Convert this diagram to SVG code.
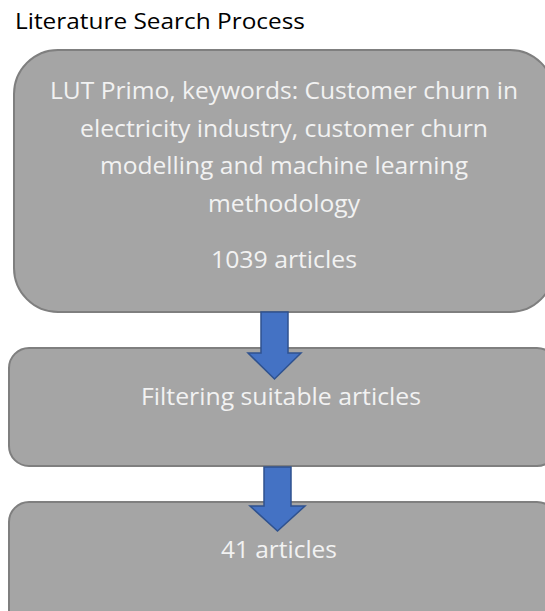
<svg xmlns="http://www.w3.org/2000/svg" width="545" height="611" viewBox="0 0 545 611">
<style>
.box{fill:#a5a5a5;stroke:#7f7f7f;stroke-width:2}
.t{font-family:"Open Sans","Liberation Sans",sans-serif;font-size:23.5px;fill:#f2f2f2;text-anchor:middle}
.title{font-family:"Open Sans","Liberation Sans",sans-serif;font-size:21px;fill:#000}
.arrow{fill:#4472c4;stroke:#2f528f;stroke-width:1.5;stroke-linejoin:miter}
</style>
<rect width="545" height="611" fill="#fff"/>
<text class="title" x="15" y="29" textLength="290" lengthAdjust="spacingAndGlyphs">Literature Search Process</text>
<g id="node1">
<rect class="box" x="14" y="50" width="540" height="262" rx="44" ry="44"/>
<text class="t" x="284" y="99" textLength="468" lengthAdjust="spacingAndGlyphs">LUT Primo, keywords: Customer churn in</text>
<text class="t" x="284" y="137" textLength="408" lengthAdjust="spacingAndGlyphs">electricity industry, customer churn</text>
<text class="t" x="284" y="174" textLength="368" lengthAdjust="spacingAndGlyphs">modelling and machine learning</text>
<text class="t" x="284" y="212" textLength="152" lengthAdjust="spacingAndGlyphs">methodology</text>
<text class="t" x="284" y="268" textLength="146" lengthAdjust="spacingAndGlyphs">1039 articles</text>
</g>
<g id="node2">
<rect class="box" x="9" y="348" width="548" height="118" rx="20" ry="20"/>
<text class="t" x="281" y="405" textLength="280" lengthAdjust="spacingAndGlyphs">Filtering suitable articles</text>
</g>
<g id="node3">
<rect class="box" x="9" y="502" width="548" height="140" rx="20" ry="20"/>
<text class="t" x="279" y="558" textLength="116" lengthAdjust="spacingAndGlyphs">41 articles</text>
</g>
<g id="connectors">
<path class="arrow" d="M261,312 L288,312 L288,353 L301,353 L274.5,379 L248,353 L261,353 Z"/>
<path class="arrow" d="M264,467 L291,467 L291,506 L305,506 L277.5,531 L250,506 L264,506 Z"/>
</g>
</svg>
